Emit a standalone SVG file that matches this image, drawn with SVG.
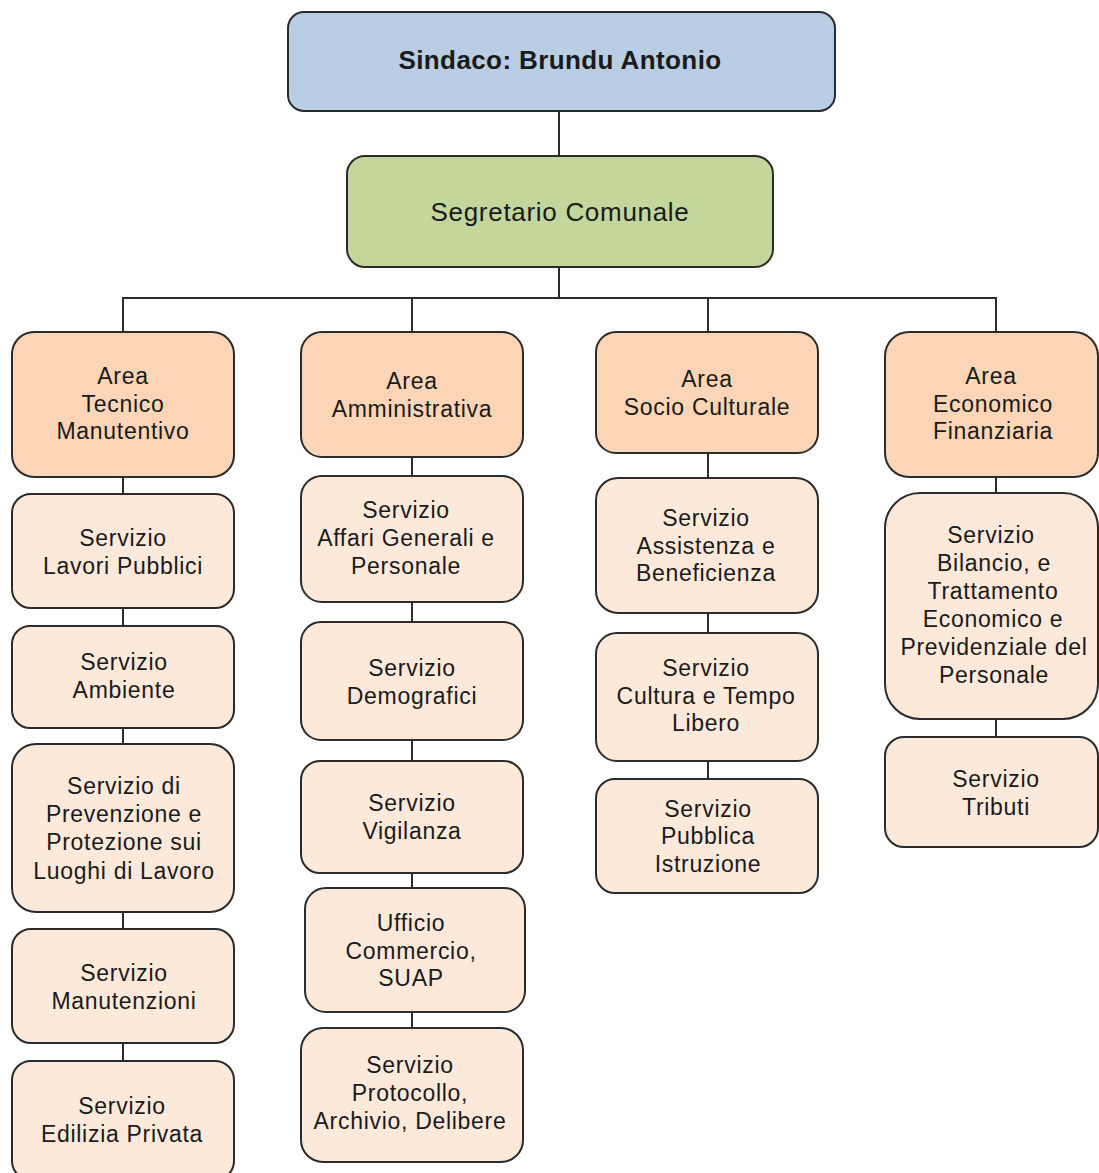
<svg xmlns="http://www.w3.org/2000/svg" width="1099" height="1173" viewBox="0 0 1099 1173">
<style>
.box{stroke:#2b2b2b;stroke-width:2}
.top{fill:#b9cde5}
.seg{fill:#c3d69b}
.area{fill:#fbd5b5}
.srv{fill:#fce9da}
text{font-family:"Liberation Sans",Arial,sans-serif;fill:#1a1a1a;text-anchor:middle}
.t{font-size:23px;letter-spacing:0.7px}
.conn line{stroke:#2b2b2b;stroke-width:2}
</style>
<rect width="1099" height="1173" fill="#ffffff"/>
<g class="conn">
<line x1="559" y1="111" x2="559" y2="156"/>
<line x1="559" y1="267" x2="559" y2="298"/>
<line x1="123" y1="298" x2="996" y2="298"/>
<line x1="123" y1="297" x2="123" y2="332"/>
<line x1="412" y1="297" x2="412" y2="332"/>
<line x1="708" y1="297" x2="708" y2="332"/>
<line x1="996" y1="297" x2="996" y2="332"/>
<line x1="123" y1="477" x2="123" y2="494"/>
<line x1="123" y1="608" x2="123" y2="626"/>
<line x1="123" y1="728" x2="123" y2="744"/>
<line x1="123" y1="912" x2="123" y2="929"/>
<line x1="123" y1="1043" x2="123" y2="1061"/>
<line x1="412" y1="457" x2="412" y2="476"/>
<line x1="412" y1="602" x2="412" y2="622"/>
<line x1="412" y1="740" x2="412" y2="761"/>
<line x1="412" y1="873" x2="412" y2="888"/>
<line x1="412" y1="1012" x2="412" y2="1028"/>
<line x1="708" y1="453" x2="708" y2="478"/>
<line x1="708" y1="613" x2="708" y2="633"/>
<line x1="708" y1="761" x2="708" y2="779"/>
<line x1="996" y1="477" x2="996" y2="493"/>
<line x1="996" y1="719" x2="996" y2="737"/>
</g>
<g id="sindaco">
<rect class="box top" x="288" y="12" width="547" height="99" rx="16"/>
<text x="560" y="69" style="font-size:26px;font-weight:bold;letter-spacing:0.4px">Sindaco: Brundu Antonio</text>
</g>
<g id="segretario">
<rect class="box seg" x="347" y="156" width="426" height="111" rx="18"/>
<text x="560" y="221" style="font-size:26px;letter-spacing:0.7px">Segretario Comunale</text>
</g>
<g id="area-tecnico">
<rect class="box area" x="12" y="332" width="222" height="145" rx="22"/>
<text class="t" x="123" y="384">Area</text>
<text class="t" x="123" y="412">Tecnico</text>
<text class="t" x="123" y="439">Manutentivo</text>
</g>
<g id="lavori-pubblici">
<rect class="box srv" x="12" y="494" width="222" height="114" rx="19"/>
<text class="t" x="123" y="546">Servizio</text>
<text class="t" x="123" y="574">Lavori Pubblici</text>
</g>
<g id="ambiente">
<rect class="box srv" x="12" y="626" width="222" height="102" rx="18"/>
<text class="t" x="124" y="670">Servizio</text>
<text class="t" x="124" y="698">Ambiente</text>
</g>
<g id="prevenzione">
<rect class="box srv" x="12" y="744" width="222" height="168" rx="24"/>
<text class="t" x="124" y="794">Servizio di</text>
<text class="t" x="124" y="822">Prevenzione  e</text>
<text class="t" x="124" y="850">Protezione sui</text>
<text class="t" x="124" y="879">Luoghi di Lavoro</text>
</g>
<g id="manutenzioni">
<rect class="box srv" x="12" y="929" width="222" height="114" rx="19"/>
<text class="t" x="124" y="981">Servizio</text>
<text class="t" x="124" y="1009">Manutenzioni</text>
</g>
<g id="edilizia">
<rect class="box srv" x="12" y="1061" width="222" height="119" rx="19"/>
<text class="t" x="122" y="1114">Servizio</text>
<text class="t" x="122" y="1142">Edilizia Privata</text>
</g>
<g id="area-amministrativa">
<rect class="box area" x="301" y="332" width="222" height="125" rx="21"/>
<text class="t" x="412" y="389">Area</text>
<text class="t" x="412" y="417">Amministrativa</text>
</g>
<g id="affari-generali">
<rect class="box srv" x="301" y="476" width="222" height="126" rx="21"/>
<text class="t" x="406" y="518">Servizio</text>
<text class="t" x="406" y="546">Affari Generali e</text>
<text class="t" x="406" y="574">Personale</text>
</g>
<g id="demografici">
<rect class="box srv" x="301" y="622" width="222" height="118" rx="20"/>
<text class="t" x="412" y="676">Servizio</text>
<text class="t" x="412" y="704">Demografici</text>
</g>
<g id="vigilanza">
<rect class="box srv" x="301" y="761" width="222" height="112" rx="19"/>
<text class="t" x="412" y="811">Servizio</text>
<text class="t" x="412" y="839">Vigilanza</text>
</g>
<g id="commercio">
<rect class="box srv" x="305" y="888" width="220" height="124" rx="21"/>
<text class="t" x="411" y="931">Ufficio</text>
<text class="t" x="411" y="959">Commercio,</text>
<text class="t" x="411" y="986">SUAP</text>
</g>
<g id="protocollo">
<rect class="box srv" x="301" y="1028" width="222" height="134" rx="22"/>
<text class="t" x="410" y="1073">Servizio</text>
<text class="t" x="410" y="1101">Protocollo,</text>
<text class="t" x="410" y="1129">Archivio, Delibere</text>
</g>
<g id="area-socio">
<rect class="box area" x="596" y="332" width="222" height="121" rx="20"/>
<text class="t" x="707" y="387">Area</text>
<text class="t" x="707" y="415">Socio Culturale</text>
</g>
<g id="assistenza">
<rect class="box srv" x="596" y="478" width="222" height="135" rx="22"/>
<text class="t" x="706" y="526">Servizio</text>
<text class="t" x="706" y="554">Assistenza e</text>
<text class="t" x="706" y="581">Beneficienza</text>
</g>
<g id="cultura">
<rect class="box srv" x="596" y="633" width="222" height="128" rx="21"/>
<text class="t" x="706" y="676">Servizio</text>
<text class="t" x="706" y="704">Cultura  e Tempo</text>
<text class="t" x="706" y="731">Libero</text>
</g>
<g id="pubblica-istruzione">
<rect class="box srv" x="596" y="779" width="222" height="114" rx="19"/>
<text class="t" x="708" y="817">Servizio</text>
<text class="t" x="708" y="844">Pubblica</text>
<text class="t" x="708" y="872">Istruzione</text>
</g>
<g id="area-economico">
<rect class="box area" x="885" y="332" width="213" height="145" rx="24"/>
<text class="t" x="991" y="384">Area</text>
<text class="t" x="993" y="412">Economico</text>
<text class="t" x="993" y="439">Finanziaria</text>
</g>
<g id="bilancio">
<rect class="box srv" x="885" y="493" width="213" height="226" rx="35"/>
<text class="t" x="991" y="543">Servizio</text>
<text class="t" x="994" y="571">Bilancio, e</text>
<text class="t" x="993" y="599">Trattamento</text>
<text class="t" x="993" y="627">Economico e</text>
<text class="t" x="994" y="655">Previdenziale  del</text>
<text class="t" x="994" y="683">Personale</text>
</g>
<g id="tributi">
<rect class="box srv" x="885" y="737" width="213" height="110" rx="19"/>
<text class="t" x="996" y="787">Servizio</text>
<text class="t" x="996" y="815">Tributi</text>
</g>
</svg>
